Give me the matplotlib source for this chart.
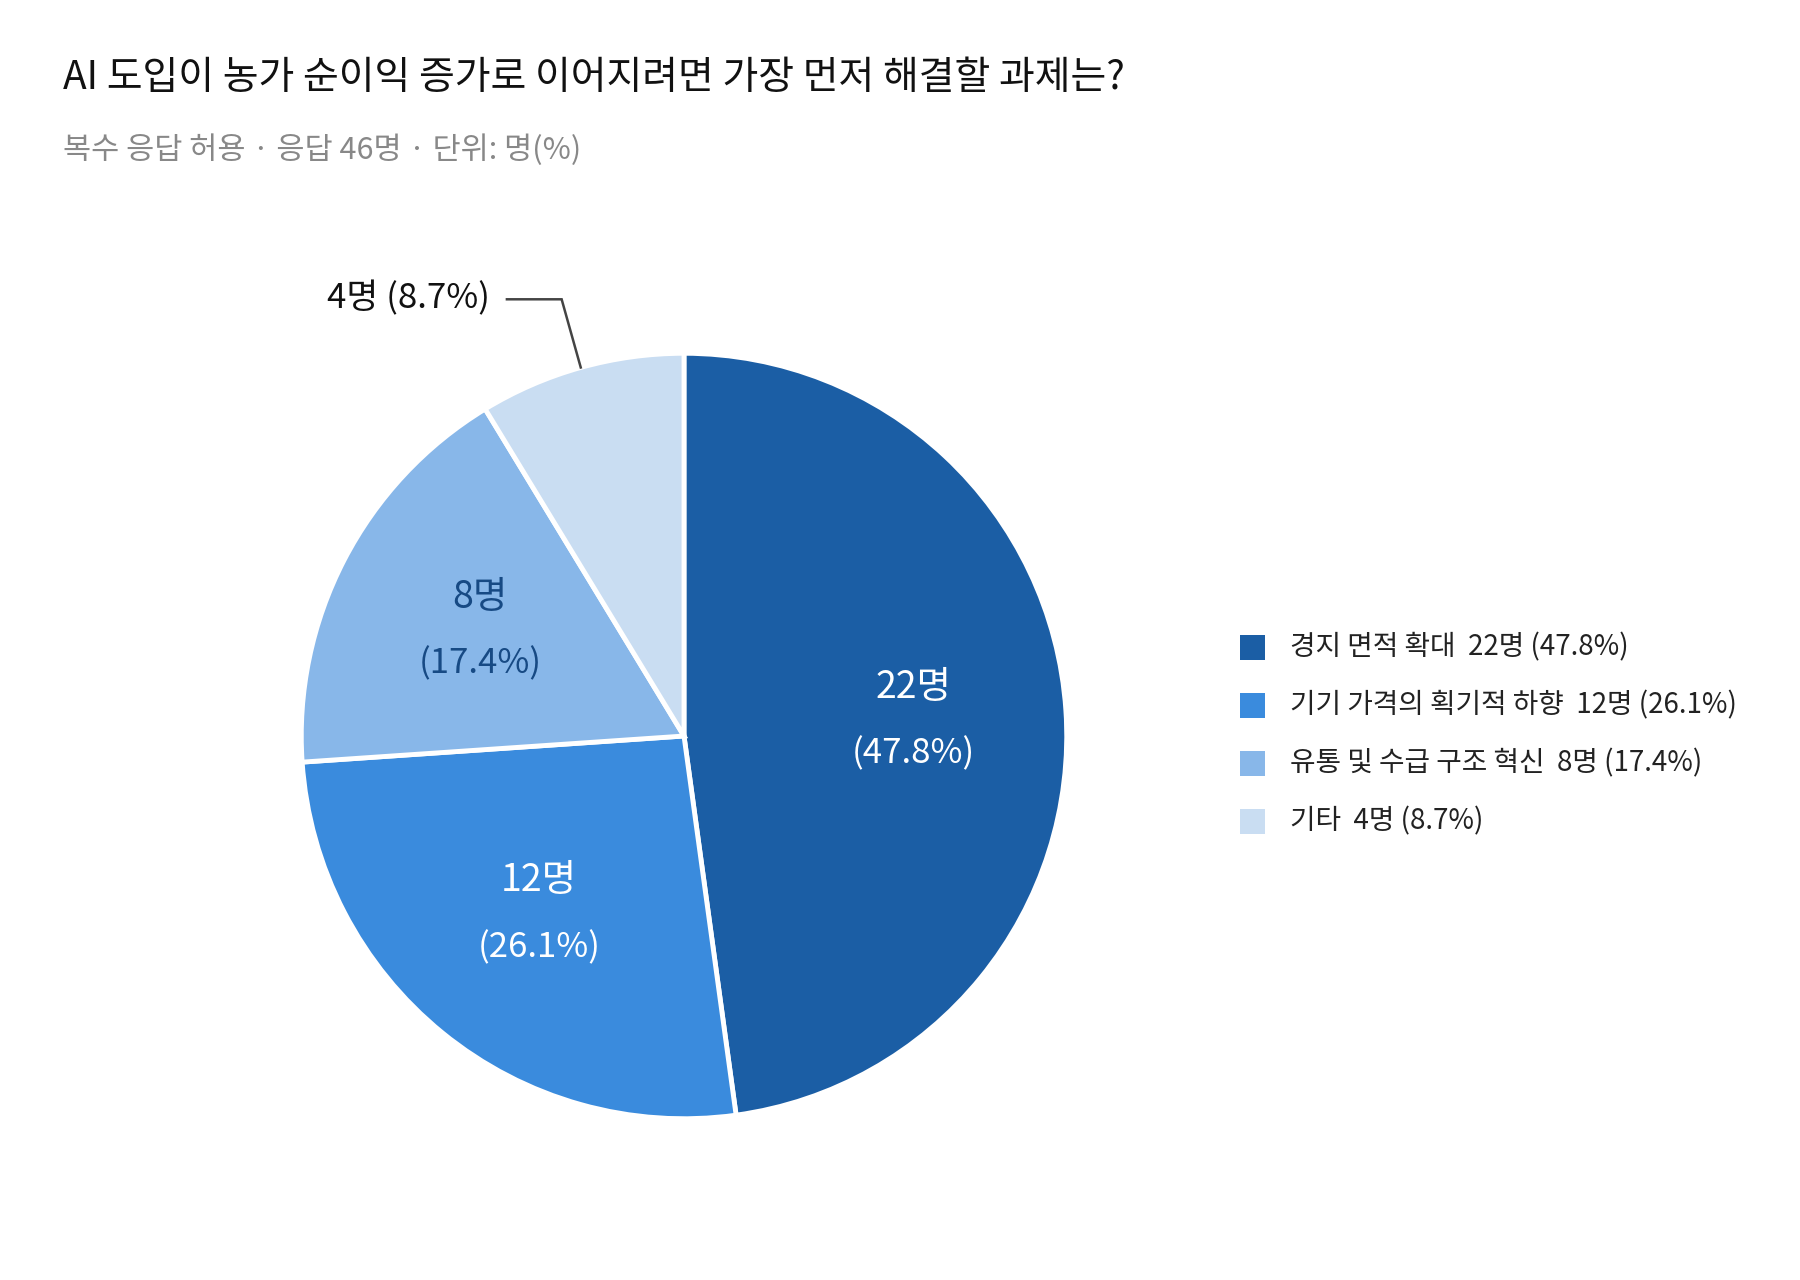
import matplotlib
matplotlib.use("Agg")
import matplotlib.pyplot as plt
import numpy as np
from matplotlib.patches import Rectangle

plt.rcParams['font.family'] = ['Noto Sans CJK KR', 'DejaVu Sans']

categories = ["경지 면적 확대", "기기 가격의 획기적 하향", "유통 및 수급 구조 혁신", "기타"]
counts = [22, 12, 8, 4]
percents = [47.8, 26.1, 17.4, 8.7]
colors = ["#1B5EA5", "#3A8BDD", "#88B7E9", "#C9DDF2"]
label_colors = ["white", "white", "#174A84", None]

title = "AI 도입이 농가 순이익 증가로 이어지려면 가장 먼저 해결할 과제는?"
subtitle = "복수 응답 허용 · 응답 46명 · 단위: 명(%)"

W, H = 1800, 1280
fig = plt.figure(figsize=(W / 100, H / 100), dpi=100)
fig.patch.set_facecolor("white")

fig.text(63 / W, 1 - 78 / H, title, fontsize=28, color="#111111", va="center", ha="left")
fig.text(63 / W, 1 - 150 / H, subtitle, fontsize=22, color="#888888", va="center", ha="left")

# pie axes
cx, cy, R = 684, 736, 368
half = 1.3
side = 2 * half * R
ax = fig.add_axes([(cx - side / 2) / W, 1 - (cy + side / 2) / H, side / W, side / H])
ax.set_xlim(-half, half)
ax.set_ylim(-half, half)
ax.set_aspect("equal")
ax.axis("off")

wedges, _ = ax.pie(counts, colors=colors, startangle=90, counterclock=False, radius=1.0,
                   wedgeprops=dict(edgecolor="white", linewidth=3.5))

for i, w in enumerate(wedges):
    mid = np.deg2rad((w.theta1 + w.theta2) / 2)
    if label_colors[i] is not None:
        x, y = 0.6 * np.cos(mid), 0.6 * np.sin(mid)
        ax.text(x, y + 0.087, f"{counts[i]}명", ha="center", va="center", fontsize=27,
                color=label_colors[i])
        ax.text(x, y - 0.087, f"({percents[i]}%)", ha="center", va="center", fontsize=25,
                color=label_colors[i])
    else:
        ex, ey = np.cos(mid), np.sin(mid)
        bx, by = 1.185 * np.cos(mid), 1.185 * np.sin(mid)
        ax.plot([ex, bx, bx - 0.143], [ey, by, by], color="#444444", linewidth=1.8,
                solid_joinstyle="miter")
        ax.text(bx - 0.187, by + 0.002, f"{counts[i]}명 ({percents[i]}%)", ha="right",
                va="center", fontsize=25, color="#111111")

# legend
sq = 25
for i, cat in enumerate(categories):
    yc = 647 + i * 58
    fig.patches.append(Rectangle(((1240) / W, 1 - (yc + sq / 2) / H), sq / W, sq / H,
                                 transform=fig.transFigure, facecolor=colors[i],
                                 edgecolor="none"))
    fig.text(1290 / W, 1 - yc / H, f"{cat}  {counts[i]}명 ({percents[i]}%)", fontsize=20,
             color="#222222", va="center", ha="left")

fig.savefig("out.png", dpi=100, facecolor="white")
